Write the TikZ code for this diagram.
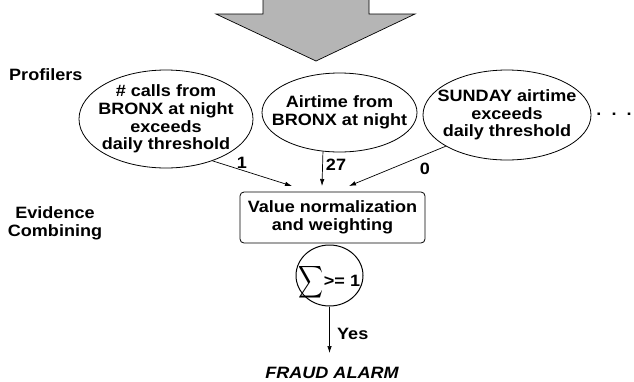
\documentclass[tikz,border=0pt]{standalone}
\usepackage{graphicx}
\usepackage{fontspec}
\setmainfont{Liberation Sans}[FakeStretch=1.1]
\usetikzlibrary{shapes.geometric,arrows.meta}
\begin{document}
\begin{tikzpicture}[x=1pt,y=-1pt,
  txt/.style={font=\fontsize{16.4}{17.7}\selectfont\bfseries, inner sep=0pt},
  prof/.style={txt, draw, ellipse, line width=0.8pt, inner xsep=-16pt, inner ysep=0pt, align=center},
  arr/.style={-{Latex[length=7pt,width=4.5pt]}, line width=0.7pt},
  ]
\useasboundingbox (0,0) rectangle (634,381);
% big grey arrow
\filldraw[fill=black!29, draw=black, line width=0.7pt]
  (263,-2) -- (263,14) -- (216,14) -- (316,61) -- (415,14) -- (369,14) -- (369,-2);
% labels
\node[txt, anchor=base west] (prof) at (9,80) {Profilers};
\node[txt, align=center, anchor=base] (ev) at (55,236) {Evidence\\Combining};
% profilers
\node[prof, minimum width=174pt, minimum height=98pt] (e1) at (166,119)
  {\# calls from\\BRONX at night\\exceeds\\daily threshold};
\node[prof, minimum width=155pt, minimum height=79pt] (e2) at (339.5,112.5)
  {Airtime from\\BRONX at night};
\node[prof, minimum width=168pt, minimum height=90pt] (e3) at (507,115)
  {SUNDAY airtime\\exceeds\\daily threshold};
\node[txt, anchor=base] (dots) at (614,115) {.\hspace{10pt}.\hspace{10pt}.};
% combining box
\node[txt, draw, rounded corners=4pt, minimum width=185pt, minimum height=51pt,
  align=center, line width=0.8pt] (box) at (332.5,217.5) {Value normalization\\and weighting};
\coordinate (a1) at (292,186);
\coordinate (a2) at (322,186);
\coordinate (a3) at (349,186);
\draw[arr] (e1.-42) -- (a1);
\draw[arr] (e2.-113) -- (a2);
\draw[arr] (e3.-153) -- (a3);
\node[txt, anchor=base] (l1) at (242,168) {1};
\node[txt, anchor=base] (l2) at (336,170) {27};
\node[txt, anchor=base] (l3) at (425,174) {0};
% sum
\node[draw, ellipse, line width=1pt, minimum width=67pt, minimum height=61pt, inner sep=0pt] (sum) at (329.5,275.5) {};
\node[txt, anchor=base] (sumtxt) at (329.5,286)
  {\raisebox{-14pt}{\resizebox*{25pt}{36pt}{\raisebox{\depth}{$\displaystyle\sum$}}}>= 1};
\coordinate (yend) at (329.5,353);
\draw[arr] (sum.south) -- (yend);
\node[txt, anchor=base west] (yes) at (337,339) {Yes};
\node[txt, anchor=base, font=\fontsize{16.4}{17.7}\selectfont\bfseries\itshape] (alarm) at (332,378) {FRAUD ALARM};
\end{tikzpicture}
\end{document}
